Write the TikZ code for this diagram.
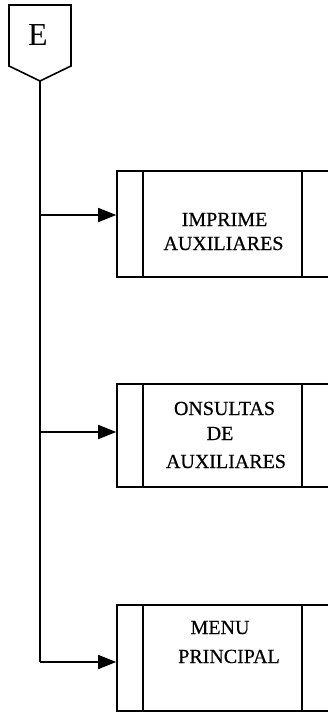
\documentclass[tikz,border=0pt]{standalone}
\usepackage{fontspec}
\setmainfont{Liberation Serif}
\newfontfamily\capfont{Liberation Serif}[AutoFakeBold=0.5]
\usetikzlibrary{arrows.meta}
\begin{document}
\begin{tikzpicture}[x=1pt,y=-1pt,
  wire/.style={line width=1.6pt},
  feed/.style={wire,-{Triangle[length=18pt,width=14pt]}},
  procbox/.style={draw,line width=1.6pt,rectangle,minimum width=223pt,minimum height=#1,inner sep=0pt},
  caption/.style={anchor=base,inner sep=0pt,font=\capfont\bfseries\fontsize{20}{24}\selectfont}
]
\useasboundingbox (0,0) rectangle (327,714);

% off-page connector
\draw[wire] (9,5) -- (71,5) -- (71,66) -- (40,81) -- (9,66) -- cycle;
\node[anchor=base,inner sep=0pt,font=\fontsize{32}{36}\selectfont] (e) at (38,46) {E};
\coordinate (etip) at (40,81);

% process boxes (right side runs past the page)
\node[procbox=106pt] (b1) at (228.5,224) {};
\node[procbox=103pt] (b2) at (228.5,435.5) {};
\node[procbox=106pt] (b3) at (228.5,658) {};
\foreach \b in {b1,b2,b3}{
  \draw[wire] ([xshift=27pt]\b.north west) -- ([xshift=27pt]\b.south west);
  \draw[wire] ([xshift=186pt]\b.north west) -- ([xshift=186pt]\b.south west);
}

% labels
\node[caption] (t11) at (224.5,226) {IMPRIME};
\node[caption] (t12) at (223.5,250) {AUXILIARES};
\node[caption] (t21) at (224.5,415) {ONSULTAS};
\node[caption] (t22) at (220,440) {DE};
\node[caption] (t23) at (226,468) {AUXILIARES};
\node[caption] (t31) at (220,634) {MENU};
\node[caption] (t32) at (229,663) {PRINCIPAL};

% branch points on the trunk
\coordinate (j1) at (40,215);
\coordinate (j2) at (40,432);
\coordinate (j3) at (40,662);

\draw[wire] (etip) -- (j3);
\draw[feed] (j1) -- (j1 -| b1.west);
\draw[feed] (j2) -- (j2 -| b2.west);
\draw[feed] (j3) -- (j3 -| b3.west);
\end{tikzpicture}
\end{document}
